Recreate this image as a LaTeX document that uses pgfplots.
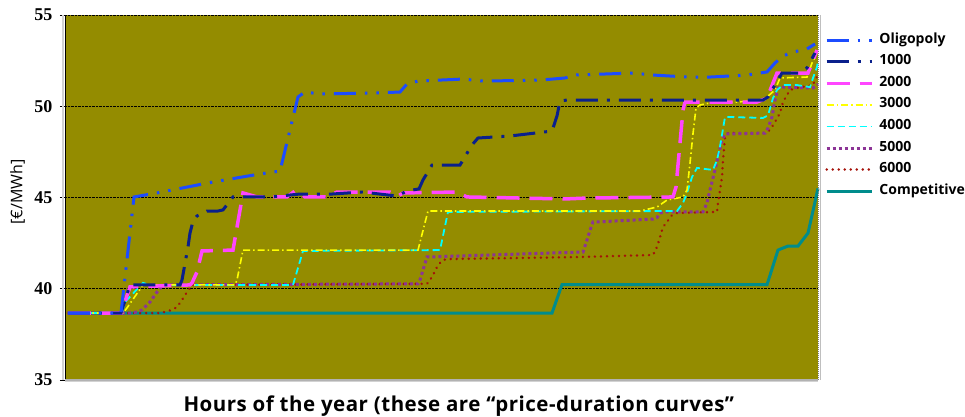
\documentclass[border=0pt]{standalone}
\usepackage{pgfplots}
\pgfplotsset{compat=1.18}
\usepackage{fontspec}
\setmainfont{Open Sans}
\newfontfamily\tickfont{Liberation Serif}
\newfontfamily\xlabfont[LetterSpace=2.5]{Open Sans}
\definecolor{bgolive}{RGB}{148,140,0}
\definecolor{colOlig}{RGB}{28,76,255}
\definecolor{colA}{RGB}{10,32,140}
\definecolor{colB}{RGB}{255,70,255}
\definecolor{colC}{RGB}{255,255,0}
\definecolor{colD}{RGB}{0,255,255}
\definecolor{colE}{RGB}{140,52,150}
\definecolor{colF}{RGB}{165,18,10}
\definecolor{colComp}{RGB}{0,140,140}
\begin{document}
\begin{tikzpicture}
\useasboundingbox (-65pt,-36pt) rectangle (900pt,380pt);
\begin{axis}[
  scale only axis, width=753pt, height=365pt,
  xmin=65, xmax=818, ymin=35, ymax=55,
  xtick=\empty, ytick={35,40,45,50,55}, ytick pos=left,
  ymajorgrids, grid style={black, densely dotted, line width=0.6pt},
  axis background/.style={fill=bgolive},
  axis line style={draw=none},
  clip=false,
  tick style={black, line width=0.8pt}, tick align=outside, major tick length=5pt,
  /pgf/number format/assume math mode=true,
  y tick label style={font=\tickfont\bfseries\fontsize{18}{18}\selectfont, xshift=-4pt},
  ylabel={[€/MWh]},
  ylabel style={at={(axis description cs:-0.063,0.515)}, anchor=center, font=\fontsize{16}{16}\selectfont},
  xlabel={Hours of the year (these are “price-duration curves”},
  xlabel style={at={(axis description cs:0.523,0)}, anchor=center, yshift=-26pt, font=\xlabfont\bfseries\fontsize{20.5}{20.5}\selectfont},
  reverse legend,
  legend style={at={(rel axis cs:1.005,0.955)}, anchor=north west, draw=none, fill=none,
    font=\bfseries\fontsize{14}{14}\selectfont, row sep=8.6pt,
    nodes={inner sep=0pt, text height=9.5pt, text depth=3.5pt},
    /tikz/every odd column/.append style={column sep=6pt}},
  legend cell align=left,
  legend image code/.code={\draw[#1] (0pt,0pt) -- (45pt,0pt);},
]
% Competitive
\addplot[colComp, line width=3pt] coordinates {
(68,38.67)(552,38.67)(562,40.22)(767,40.22)(778,42.12)(788,42.34)(798,42.34)(808,43.05)(818,45.5)};
\addlegendentry{Competitive}
% 6000
\addplot[colF, line width=2.7pt, line cap=round, dash pattern=on 0.01pt off 6pt] coordinates {
(68,38.67)(160,38.67)(165,38.73)(172,38.84)(177,39.0)(182,39.38)(185,39.66)(190,40.04)(192,40.21)(427,40.27)(430,40.48)(433,40.75)(438,41.30)(443,41.58)(450,41.63)(513,41.68)(580,41.74)(653,41.85)(657,42.29)(660,42.83)(663,43.38)(667,43.66)(672,44.04)(677,44.15)(717,44.21)(718,44.70)(720,45.41)(722,46.12)(723,47.05)(725,48.32)(728,48.53)(765,48.53)(770,48.70)(775,49.14)(780,49.63)(783,50.23)(787,50.62)(790,50.89)(797,51.0)(813,51.16)(815,51.44)(818,51.71)};
\addlegendentry{6000}
% 5000
\addplot[colE, line width=3pt, dash pattern=on 3pt off 3pt] coordinates {
(68,38.67)(130,38.67)(137,38.73)(142,38.84)(150,39.27)(157,39.82)(163,40.21)(418,40.27)(420,40.48)(427,41.74)(428,41.74)(580,42.01)(583,42.01)(587,42.67)(590,43.2)(593,43.66)(597,43.66)(653,43.82)(657,43.9)(660,44.15)(665,44.21)(703,44.21)(707,44.70)(710,45.41)(715,46.51)(718,47.22)(722,48.15)(725,48.48)(765,48.53)(768,48.81)(772,49.41)(775,50.34)(778,51.0)(783,51.05)(813,51.0)(818,51.2)};
\addlegendentry{5000}
% 4000
\addplot[colD, line width=1.8pt, dash pattern=on 7pt off 4pt] coordinates {
(68,38.67)(122,38.67)(125,39.27)(143,40.32)(150,40.21)(293,40.21)(303,42.07)(440,42.12)(448,44.21)(677,44.26)(683,44.70)(687,45.25)(692,46.12)(697,46.62)(713,46.51)(717,47.05)(720,47.8)(725,49.41)(730,49.41)(763,49.36)(768,49.5)(773,50.45)(777,50.89)(783,51.16)(797,51.16)(810,51.05)(813,51.55)(817,52.15)(818,52.5)};
\addlegendentry{4000}
% 3000
\addplot[colC, line width=1.6pt, dash pattern=on 7pt off 3pt on 1.5pt off 3pt] coordinates {
(68,38.67)(123,38.67)(127,38.95)(143,40.21)(235,40.21)(237,40.48)(243,42.12)(418,42.12)(428,44.26)(640,44.26)(657,44.48)(667,44.86)(683,45.03)(687,45.41)(690,46.89)(693,48.5)(696,49.90)(700,50.07)(710,50.18)(737,50.23)(760,50.34)(767,50.51)(775,50.89)(780,51.55)(807,51.60)(812,52.37)(817,52.92)};
\addlegendentry{3000}
% 2000
\addplot[colB, line width=3.5pt, dash pattern=on 23pt off 10pt] coordinates {
(68,38.67)(121,38.67)(130,40.10)(190,40.21)(192,40.32)(197,40.92)(202,42.07)(233,42.12)(243,45.25)(257,45.03)(287,45.03)(295,45.36)(305,45.03)(327,45.03)(337,45.30)(390,45.30)(398,45.08)(403,45.25)(457,45.30)(467,45.03)(565,44.92)(587,44.97)(673,45.03)(676,45.58)(683,49.79)(685,50.23)(700,50.23)(757,50.23)(767,50.45)(777,51.82)(808,51.82)(817,53.08)};
\addlegendentry{2000}
% 1000
\addplot[colA, line width=3pt, dash pattern=on 22pt off 9pt on 3pt off 9pt] coordinates {
(68,38.67)(121,38.67)(130,40.21)(180,40.21)(182,40.48)(188,42.29)(190,43.05)(193,43.71)(197,43.99)(207,44.26)(218,44.26)(223,44.32)(233,45.03)(270,45.03)(300,45.19)(332,45.19)(362,45.30)(397,45.08)(407,45.36)(419,45.47)(423,45.96)(432,46.78)(460,46.78)(472,47.88)(478,48.26)(510,48.37)(535,48.53)(552,48.64)(557,49.47)(560,50.29)(567,50.34)(763,50.34)(768,50.51)(782,51.82)(800,51.82)(807,52.10)(815,52.92)};
\addlegendentry{1000}
% Oligopoly
\addplot[colOlig, line width=3pt, dash pattern=on 22pt off 9pt on 2.5pt off 9pt on 2.5pt off 9pt] coordinates {
(68,38.67)(121,38.67)(134,45.03)(157,45.25)(213,45.85)(260,46.29)(280,46.45)(298,50.51)(305,50.78)(320,50.67)(377,50.73)(400,50.78)(407,51.22)(418,51.38)(463,51.49)(483,51.38)(540,51.43)(565,51.55)(575,51.71)(633,51.82)(653,51.71)(688,51.60)(710,51.60)(747,51.71)(767,51.88)(775,52.37)(783,52.75)(793,52.97)(807,53.14)(815,53.41)};
\addlegendentry{Oligopoly}
% frame
\draw[gray!35, line width=2pt] ([xshift=-2pt]rel axis cs:0,0) -- ([xshift=-2pt]rel axis cs:0,1);
\draw[black, line width=0.8pt] (rel axis cs:0,0) -- (rel axis cs:0,1);
\draw[gray!60, line width=1.5pt] (rel axis cs:0,0) -- (rel axis cs:1,0);
\draw[gray!35, line width=1pt] ([yshift=-1.5pt]rel axis cs:0,0) -- ([yshift=-1.5pt]rel axis cs:1,0);
\draw[gray, densely dotted, line width=1pt] (rel axis cs:1,0) -- (rel axis cs:1,1);
\draw[gray!50, line width=1pt] ([xshift=2pt]rel axis cs:1,0) -- ([xshift=2pt]rel axis cs:1,1);
\end{axis}
\end{tikzpicture}
\end{document}
